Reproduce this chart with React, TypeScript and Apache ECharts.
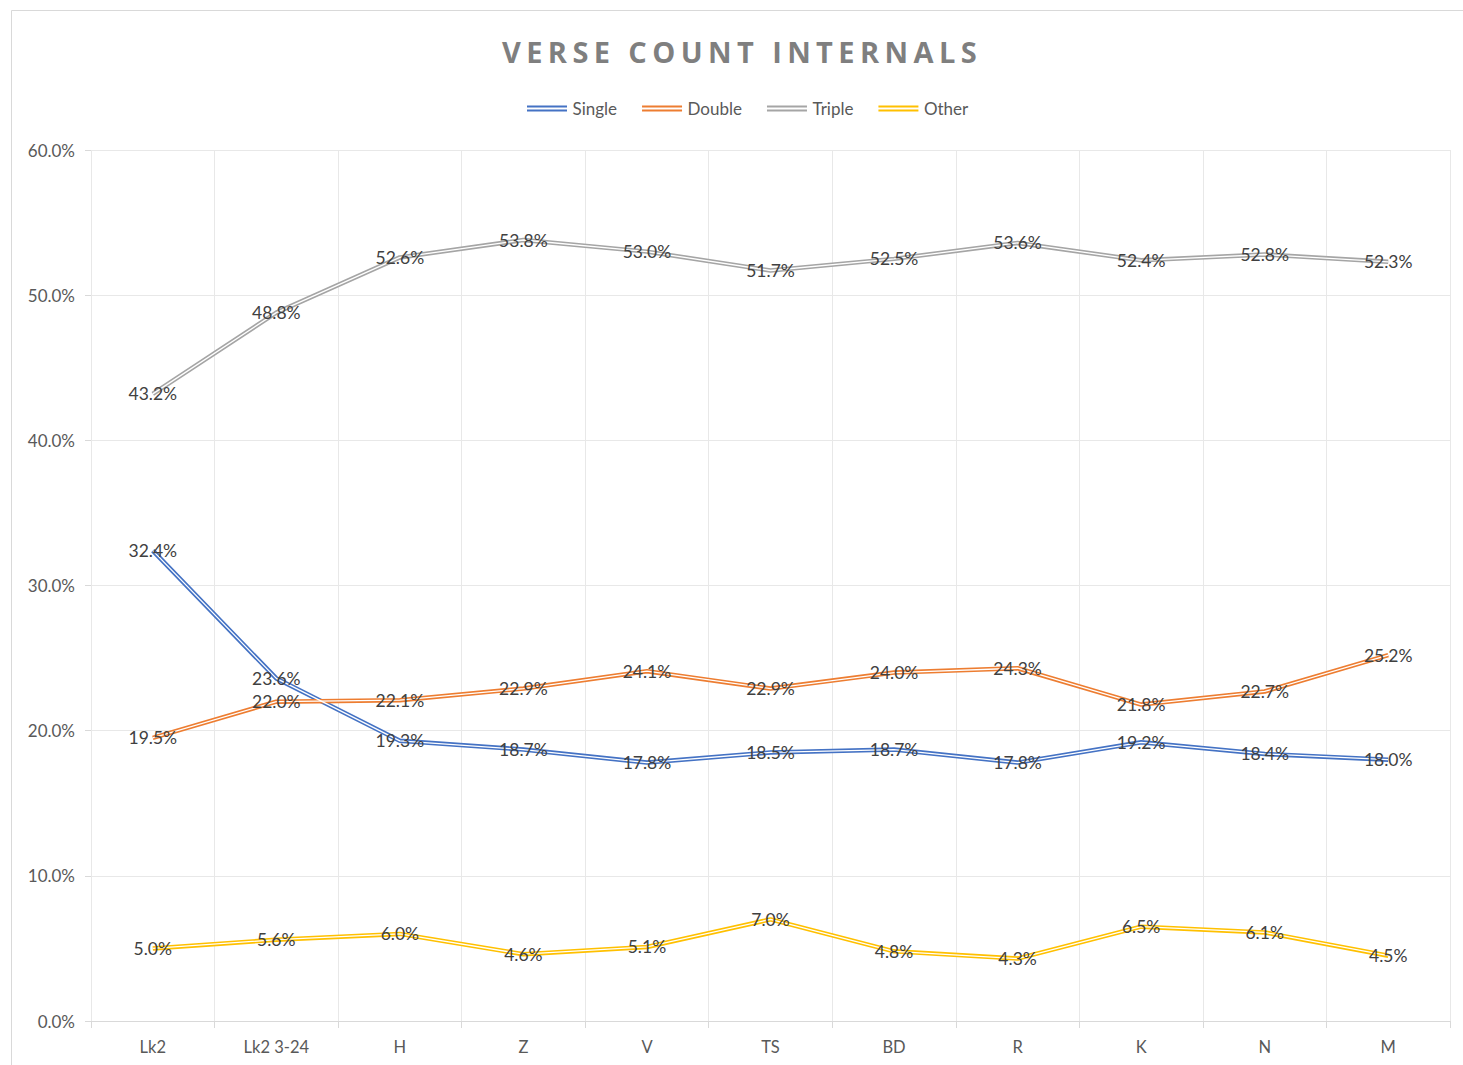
import React, { useEffect, useRef } from "react";
import * as echarts from "echarts";

const categories = ["Lk2", "Lk2 3-24", "H", "Z", "V", "TS", "BD", "R", "K", "N", "M"];
const single = [32.4, 23.6, 19.3, 18.7, 17.8, 18.5, 18.7, 17.8, 19.2, 18.4, 18.0];
const double = [19.5, 22.0, 22.1, 22.9, 24.1, 22.9, 24.0, 24.3, 21.8, 22.7, 25.2];
const triple = [43.2, 48.8, 52.6, 53.8, 53.0, 51.7, 52.5, 53.6, 52.4, 52.8, 52.3];
const other = [5.0, 5.6, 6.0, 4.6, 5.1, 7.0, 4.8, 4.3, 6.5, 6.1, 4.5];

const seriesDefs = [
  { name: "Single", data: single, color: "#4472C4" },
  { name: "Double", data: double, color: "#ED7D31" },
  { name: "Triple", data: triple, color: "#A5A5A5" },
  { name: "Other", data: other, color: "#FFC000" },
];

const TITLE = "VERSE COUNT INTERNALS";
const FONT = "Lato, 'Open Sans', sans-serif";

export default function App() {
  const ref = useRef<HTMLDivElement>(null);
  useEffect(() => {
    if (!ref.current) return;
    const chart = echarts.init(ref.current, undefined, { renderer: "svg" });
    const series: any[] = [];
    seriesDefs.forEach((s) => {
      series.push({
        name: s.name,
        type: "line",
        data: s.data,
        symbol: "none",
        color: s.color,
        lineStyle: { color: s.color, width: 4.5 },
        z: 2,
      });
    });
    seriesDefs.forEach((s) => {
      series.push({
        name: s.name + "_inner",
        type: "line",
        data: s.data,
        symbol: "circle",
        showSymbol: true,
        symbolSize: 1,
        itemStyle: { color: "rgba(0,0,0,0)" },
        lineStyle: { color: "#FFFFFF", width: 1.3 },
        z: 3,
        label: {
          show: true,
          position: "inside",
          formatter: (p: any) => Number(p.value).toFixed(1) + "%",
          fontFamily: FONT,
          fontSize: 17.5,
          color: "#404040",
        },
        labelLayout: { hideOverlap: false },
      });
    });
    chart.setOption({
      animation: false,
      backgroundColor: "#FFFFFF",
      textStyle: { fontFamily: FONT },
      title: {
        text: TITLE,
        left: 737,
        textAlign: "center",
        top: 32,
        textStyle: {
          fontFamily: "'Open Sans', sans-serif",
          fontWeight: "bold",
          fontSize: 29,
          color: "#7F7F7F",
        },
      },
      legend: {
        data: seriesDefs.map((s) => s.name),
        top: 95,
        left: 522,
        icon: "path://M0,0H40V2H0Z M0,4H40V6H0Z",
        itemWidth: 41,
        itemHeight: 6,
        itemGap: 25,
        textStyle: { fontFamily: FONT, fontSize: 17, color: "#595959" },
      },
      graphic: [
        {
          type: "rect",
          shape: { x: 11.5, y: 10.5, width: 1600, height: 1200 },
          style: { fill: "none", stroke: "#D9D9D9", lineWidth: 1 },
          silent: true,
        },
      ],
      grid: { left: 91, right: 13, top: 150, bottom: 44 },
      xAxis: {
        type: "category",
        data: categories,
        boundaryGap: true,
        axisLine: { lineStyle: { color: "#D9D9D9" } },
        axisTick: { show: true, length: 7, lineStyle: { color: "#D9D9D9" } },
        splitLine: { show: true, lineStyle: { color: "#E8E8E8" } },
        axisLabel: { fontFamily: FONT, fontSize: 16.5, color: "#595959", margin: 17 },
      },
      yAxis: {
        type: "value",
        min: 0,
        max: 60,
        interval: 10,
        axisLine: { show: false },
        axisTick: { show: true, length: 6, lineStyle: { color: "#D9D9D9" } },
        splitLine: { lineStyle: { color: "#E8E8E8" } },
        axisLabel: {
          fontFamily: FONT,
          fontSize: 17,
          color: "#595959",
          margin: 16,
          formatter: (v: number) => v.toFixed(1) + "%",
        },
      },
      series,
    });
    const texts = ref.current.querySelectorAll("text");
    texts.forEach((t) => {
      if (t.textContent === TITLE) {
        (t as SVGTextElement).style.letterSpacing = "5.4px";
      }
    });
    return () => chart.dispose();
  }, []);
  return (
    <div
      ref={ref}
      style={{ position: "absolute", left: 0, top: 0, width: 1463, height: 1065 }}
    />
  );
}
